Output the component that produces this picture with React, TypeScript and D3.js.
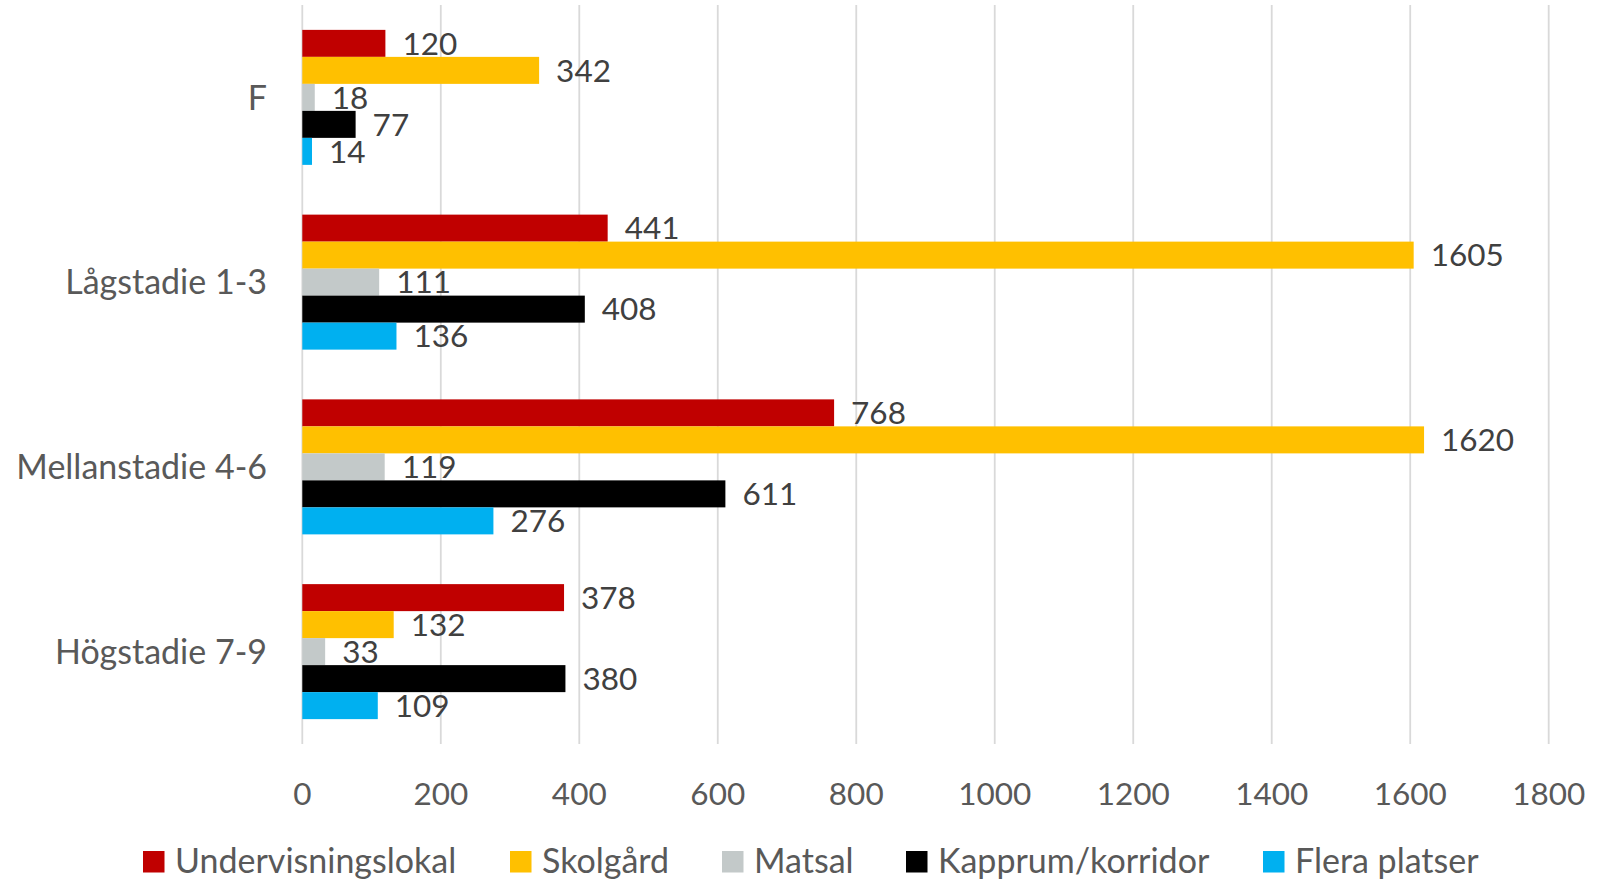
import React from "react";
import * as d3 from "d3";

const categories = ["F", "Lågstadie 1-3", "Mellanstadie 4-6", "Högstadie 7-9"];
const seriesNames = ["Undervisningslokal", "Skolgård", "Matsal", "Kapprum/korridor", "Flera platser"];
const undervisningslokal = [120, 441, 768, 378];
const skolgard = [342, 1605, 1620, 132];
const matsal = [18, 111, 119, 33];
const kapprum = [77, 408, 611, 380];
const fleraPlatser = [14, 136, 276, 109];
const seriesValues = [undervisningslokal, skolgard, matsal, kapprum, fleraPlatser];
const seriesColors = ["#C00000", "#FFC000", "#C3C9C9", "#000000", "#00B0F0"];
const xTicks = [0, 200, 400, 600, 800, 1000, 1200, 1400, 1600, 1800];

const W = 1602;
const H = 880;
const FONT = "Lato, 'Open Sans', sans-serif";
const CAP = 0.7165;

export default function App() {
  const x = d3.scaleLinear().domain([0, 1800]).range([302.3, 1548.7]);
  const y = d3
    .scaleBand<string>()
    .domain(categories)
    .range([5, 744])
    .paddingInner(0.2693)
    .paddingOuter(0.2693 / 2);
  const ySub = d3
    .scaleBand<string>()
    .domain(seriesNames)
    .range([0, y.bandwidth()])
    .padding(0);

  const valueFs = 31.5;
  const tickFs = 31.5;
  const catFs = 34;
  const legFs = 34;

  const legendX = [143, 510, 722, 906, 1263];

  return (
    <svg
      width={W}
      height={H}
      style={{ position: "absolute", left: 0, top: 0, background: "#fff" }}
      fontFamily={FONT}
    >
      {/* gridlines */}
      {xTicks.map((t) => (
        <line
          key={"g" + t}
          x1={x(t)}
          x2={x(t)}
          y1={5}
          y2={744}
          stroke="#D9D9D9"
          strokeWidth={1.8}
        />
      ))}
      {/* tick labels */}
      {xTicks.map((t) => (
        <text
          key={"t" + t}
          x={x(t)}
          y={805}
          textAnchor="middle"
          fontSize={tickFs}
          fill="#595959"
        >
          {t}
        </text>
      ))}
      {/* category labels */}
      {categories.map((c) => (
        <text
          key={"c" + c}
          x={267}
          y={(y(c) as number) + y.bandwidth() / 2 + (catFs * CAP) / 2}
          textAnchor="end"
          fontSize={catFs}
          fill="#595959"
        >
          {c}
        </text>
      ))}
      {/* bars */}
      {categories.map((c, ci) =>
        seriesNames.map((s, si) => {
          const v = seriesValues[si][ci];
          const by = (y(c) as number) + (ySub(s) as number);
          const bh = ySub.bandwidth();
          return (
            <g key={c + s}>
              <rect
                x={x(0)}
                y={by}
                width={x(v) - x(0)}
                height={bh}
                fill={seriesColors[si]}
              />
              <text
                x={x(v) + 17}
                y={by + bh / 2 + (valueFs * CAP) / 2}
                fontSize={valueFs}
                fill="#404040"
              >
                {v}
              </text>
            </g>
          );
        })
      )}
      {/* legend */}
      {seriesNames.map((s, si) => (
        <g key={"l" + s}>
          <rect x={legendX[si]} y={851} width={21.5} height={21.5} fill={seriesColors[si]} />
          <text x={legendX[si] + 32} y={873} fontSize={legFs} fill="#595959">
            {s}
          </text>
        </g>
      ))}
    </svg>
  );
}
